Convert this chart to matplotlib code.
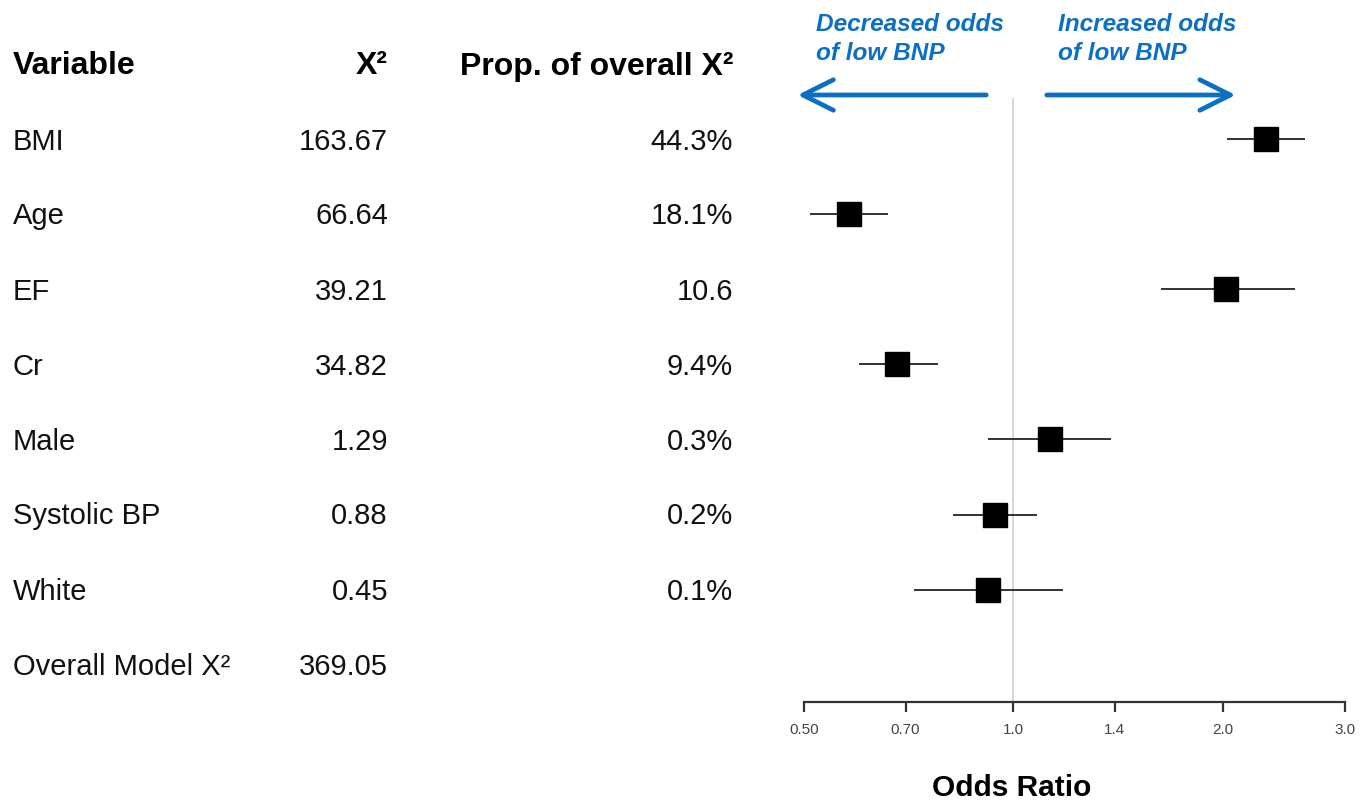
import matplotlib
matplotlib.use("Agg")
import matplotlib.pyplot as plt
import matplotlib.transforms as mtransforms

plt.rcParams['font.family'] = ['Liberation Sans', 'DejaVu Sans']

variables = ["BMI", "Age", "EF", "Cr", "Male", "Systolic BP", "White"]
chi2 = ["163.67", "66.64", "39.21", "34.82", "1.29", "0.88", "0.45"]
prop = ["44.3%", "18.1%", "10.6", "9.4%", "0.3%", "0.2%", "0.1%"]
overall_chi2 = "369.05"
odds_ratio = [2.31, 0.58, 2.02, 0.68, 1.13, 0.94, 0.92]
ci_low = [2.03, 0.51, 1.63, 0.60, 0.92, 0.82, 0.72]
ci_high = [2.63, 0.66, 2.54, 0.78, 1.38, 1.08, 1.18]
xticks = [0.5, 0.7, 1.0, 1.4, 2.0, 3.0]
xtick_labels = ["0.50", "0.70", "1.0", "1.4", "2.0", "3.0"]

W, H = 1368, 805
fig = plt.figure(figsize=(W / 100, H / 100), dpi=100)

# axes spans px x 804..1345, y 0..702
ax = fig.add_axes([804 / W, (H - 702) / H, 541 / W, 702 / H])
ax.set_xscale('log')
ax.set_xlim(0.5, 3.0)
row0_px, step_px = 64, 75
ax.set_ylim((702 - row0_px) / step_px, (0 - row0_px) / step_px)

rows = list(range(1, len(variables) + 1))

# reference line
ax.plot([1.0, 1.0], [(99 - row0_px) / step_px, ax.get_ylim()[0]], color='#cfcfcf', lw=1.2, zorder=1, clip_on=False)

for y, m, lo, hi in zip(rows, odds_ratio, ci_low, ci_high):
    yy = y + 0.5 / step_px
    ax.plot([lo, hi], [yy, yy], color='#222222', lw=1.3, zorder=2, solid_capstyle='butt')
    ax.plot([m], [yy], marker='s', color='black', markersize=17, zorder=3, linestyle='none')

for s in ['top', 'right', 'left']:
    ax.spines[s].set_visible(False)
ax.spines['bottom'].set_color('#333333')
ax.spines['bottom'].set_linewidth(1.6)
ax.set_yticks([])
ax.xaxis.set_minor_locator(matplotlib.ticker.NullLocator())
ax.set_xticks(xticks)
ax.set_xticklabels(xtick_labels)
ax.tick_params(axis='x', direction='out', length=7, width=1.6, color='#333333',
               labelsize=11, labelcolor='#444444', pad=8)
fig.text(1012 / W, (H - 788) / H, "Odds Ratio", fontsize=21.5, fontweight='bold', ha='center', va='center')

# table on the left: x in figure fraction, y in data
tr = mtransforms.blended_transform_factory(fig.transFigure, ax.transData)
fs = 21
fsb = 23
dy = 2.5 / step_px
ax.text(13 / W, dy, "Variable", transform=tr, fontsize=fsb, fontweight='bold', ha='left', va='center', clip_on=False)
ax.text(388 / W, dy, "X²", transform=tr, fontsize=fsb, fontweight='bold', ha='right', va='center', clip_on=False)
ax.text(733 / W, dy, "Prop. of overall X²", transform=tr, fontsize=fsb, fontweight='bold', ha='right', va='center', clip_on=False)
for y, v, c, p in zip(rows, variables, chi2, prop):
    ax.text(13 / W, y + dy, v, transform=tr, fontsize=fs, ha='left', va='center', color='#111111', clip_on=False)
    ax.text(388 / W, y + dy, c, transform=tr, fontsize=fs, ha='right', va='center', color='#111111', clip_on=False)
    ax.text(733 / W, y + dy, p, transform=tr, fontsize=fs, ha='right', va='center', color='#111111', clip_on=False)
yo = len(variables) + 1
ax.text(13 / W, yo + dy, "Overall Model X²", transform=tr, fontsize=fs, ha='left', va='center', color='#111111', clip_on=False)
ax.text(388 / W, yo + dy, overall_chi2, transform=tr, fontsize=fs, ha='right', va='center', color='#111111', clip_on=False)

# direction arrows
blue = '#0b6fc4'
tra = mtransforms.blended_transform_factory(ax.transAxes, ax.transData)
ya = (95 - row0_px) / step_px
arrow_kw = dict(arrowstyle='->,head_length=2.2,head_width=1.1', color=blue, lw=3.4, mutation_scale=10)
ax.annotate("", xy=(-0.017, ya), xytext=(0.342, ya), xycoords=tra, textcoords=tra,
            arrowprops=arrow_kw, annotation_clip=False)
ax.annotate("", xy=(0.803, ya), xytext=(0.4436, ya), xycoords=tra, textcoords=tra,
            arrowprops=arrow_kw, annotation_clip=False)
yt = (13 - row0_px) / step_px
ax.text(0.022, yt, "Decreased odds\nof low BNP", transform=tra, color=blue, fontsize=17.6,
        fontweight='bold', fontstyle='italic', ha='left', va='top', linespacing=1.32, clip_on=False)
ax.text(0.4695, yt, "Increased odds\nof low BNP", transform=tra, color=blue, fontsize=17.6,
        fontweight='bold', fontstyle='italic', ha='left', va='top', linespacing=1.32, clip_on=False)

fig.savefig("out.png", dpi=100)
